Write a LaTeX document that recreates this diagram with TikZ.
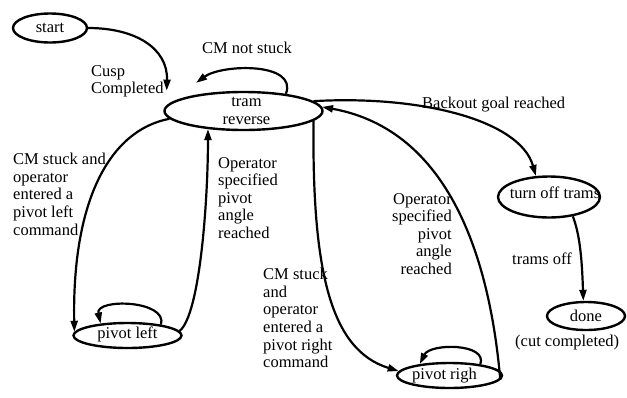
\documentclass[tikz,border=0pt]{standalone}
\usepackage{fontspec}
\setmainfont{Liberation Serif}
\usetikzlibrary{shapes.geometric,arrows.meta}

\tikzset{
  txt/.style={font=\fontsize{16.5}{17.6}\selectfont, inner sep=0pt, text=black},
  state/.style={draw, ellipse, line width=2.4pt, inner sep=0pt, txt},
  edge/.style={line width=2.2pt, -{Triangle[length=11pt,width=7pt]}},
  lbl/.style={txt, align=left, anchor=north west},
}

\begin{document}
\begin{tikzpicture}[x=1pt,y=-1pt]
\useasboundingbox (0,0) rectangle (627,397);

% states
\node[state, minimum width=74pt, minimum height=29pt,
      label={[txt]center:start}] (start) at (50,28) {};
\node[state, minimum width=158pt, minimum height=38pt,
      label={[txt,align=center,xshift=3pt]center:{tram\\reverse}}] (tr) at (243.5,111) {};
\node[state, minimum width=102pt, minimum height=41pt,
      label={[txt,xshift=6pt,yshift=4pt]center:turn off trams}] (off) at (549,197) {};
\node[state, minimum width=78pt, minimum height=28pt,
      label={[txt]center:done}] (done) at (586,316) {};
\node[state, minimum width=108pt, minimum height=25pt,
      label={[txt,yshift=1pt]center:pivot left}] (pl) at (127.5,335.5) {};
\node[state, minimum width=105pt, minimum height=25pt,
      label={[txt,xshift=-5pt]center:pivot righ}] (pr) at (449.5,375.5) {};

% transitions
\draw[edge, shorten >=15pt] (start.east) .. controls (135,28) and (168,48) .. (tr.176);
\draw[edge] (tr.22) .. controls (298,62) and (222,64) .. ([xshift=-5pt,yshift=11pt]tr.158);
\draw[edge] (tr.186) .. controls (110,130) and (72,200) .. (pl.176);
\draw[edge] (pl.5) .. controls (200,315) and (208,200) .. (tr.207);
\draw[edge] (pl.18) .. controls (168,300) and (95,298) .. (pl.156);
\draw[edge] (tr.352) .. controls (312,270) and (330,350) .. (pr.175);
\draw[edge] (pr.355) .. controls (490,260) and (450,130) .. (tr.3);
\draw[edge] (pr.20) .. controls (488,343) and (430,343) .. (pr.159);
\draw[edge] (tr.8) .. controls (420,95) and (520,120) .. (off.122);
\draw[edge] (off.321) .. controls (580,235) and (582,260) .. (done.100);

% transition labels
\node[lbl] (lcusp) at (91,65) {Cusp\\Completed};
\node[txt, anchor=north] (lnotstuck) at (247,42) {CM not stuck};
\node[lbl] (lstuckl) at (13,153) {CM stuck and\\operator\\entered a\\pivot left\\command};
\node[lbl] (langl) at (218,157) {Operator\\specified\\pivot\\angle\\reached};
\node[lbl] (lstuckr) at (263,268) {CM stuck\\and\\operator\\entered a\\pivot right\\command};
\node[txt, align=right, anchor=north east] (langr) at (452,193) {Operator\\specified\\pivot\\angle\\reached};
\node[lbl] (lbackout) at (422,97) {Backout goal reached};
\node[lbl] (ltramsoff) at (512,253) {trams off};
\node[lbl] (lcut) at (515,335) {(cut completed)};
\end{tikzpicture}
\end{document}
